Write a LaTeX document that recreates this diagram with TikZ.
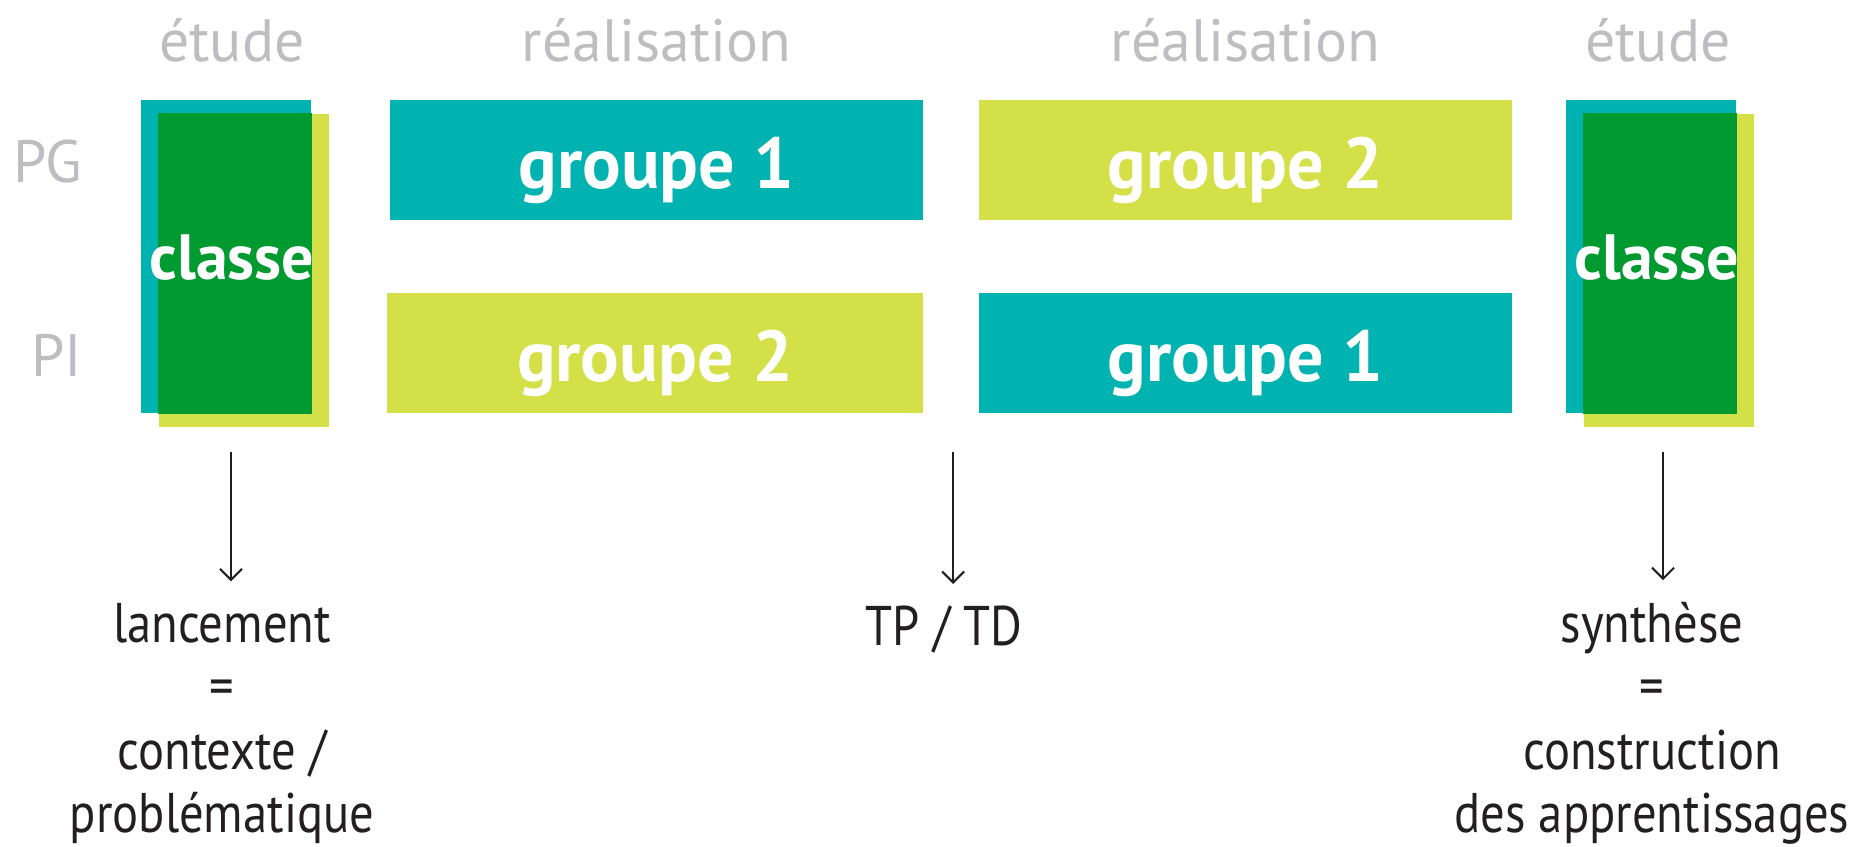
\documentclass[tikz,border=0pt]{standalone}
\usepackage{fontspec}
\setmainfont{PT Sans}
\newfontfamily\legendefont[FakeStretch=0.87]{PT Sans}
\usetikzlibrary{positioning,arrows.meta}
\definecolor{turquoise}{RGB}{0,178,176}
\definecolor{anis}{RGB}{212,224,72}
\definecolor{vertclasse}{RGB}{0,154,49}
\definecolor{grisclair}{RGB}{190,190,194}
\definecolor{encre}{RGB}{35,31,32}
\tikzset{
  bloc/.style={inner sep=0, minimum width=5.33cm, minimum height=1.2cm, text=white,
    font=\bfseries\fontsize{20.5}{24}\selectfont, text height=0.7cm, text depth=0.12cm},
  colonne/.style={inner sep=0, minimum width=1.7cm, minimum height=3.13cm},
  etiq/.style={text=white, font=\bfseries\fontsize{18.2}{21}\selectfont, anchor=base, inner sep=0},
  phase/.style={text=grisclair, font=\fontsize{17}{20}\selectfont, anchor=base, inner sep=0},
  legende/.style={text=encre, font=\legendefont\fontsize{15.9}{18.1}\selectfont, align=center, anchor=base, inner sep=0},
  fleche/.style={encre, line width=0.6pt, -{Straight Barb[length=1.1mm,width=2.2mm]}}
}
\begin{document}
\begin{tikzpicture}
  \useasboundingbox (0,0) rectangle (18.65,-8.47);
  % colonnes classe
  \node [colonne, fill=turquoise] (clG) at (2.26,-2.565) {};
  \node [colonne, fill=anis, on grid, below right=0.14cm and 0.18cm of clG] (clGb) {};
  \fill [vertclasse] (clGb.north west) rectangle (clG.south east);
  \node [colonne, fill=turquoise, on grid, right=14.25cm of clG] (clD) {};
  \node [colonne, fill=anis, on grid, below right=0.14cm and 0.18cm of clD] (clDb) {};
  \fill [vertclasse] (clDb.north west) rectangle (clD.south east);
  \node [etiq] (txtG) at (2.32,-2.80) {classe};
  \node [etiq, on grid, right=14.25cm of txtG] (txtD) {classe};
  % groupes
  \node [bloc, fill=turquoise] (g1h) at (6.565,-1.60) {groupe 1};
  \node [bloc, fill=anis, on grid, right=5.89cm of g1h] (g2h) {groupe 2};
  \node [bloc, fill=anis, minimum width=5.36cm] (g2b) at (6.55,-3.53) {groupe 2};
  \node [bloc, fill=turquoise, on grid, below=1.93cm of g2h] (g1b) {groupe 1};
  % titres
  \node [phase] (etG) at (2.32,-0.62) {étude};
  \node [phase] (reaG) at (6.565,-0.62) {réalisation};
  \node [phase, on grid, right=5.89cm of reaG] (reaD) {réalisation};
  \node [phase] (etD) at (16.58,-0.62) {étude};
  \node [phase, anchor=base east] (pg) at (0.83,-1.83) {PG};
  \node [phase, anchor=base east] (pi) at (0.83,-3.77) {PI};
  % legendes (base = derniere ligne)
  \node [legende] (lanc) at (2.22,-8.33) {lancement\\=\\contexte /\\problématique};
  \node [legende] (tp) at (9.44,-6.46) {TP / TD};
  \node [legende] (synth) at (16.52,-8.33) {synthèse\\=\\construction\\des apprentissages};
  \coordinate (flG) at (2.31,-4.52);
  \coordinate (flM) at (9.53,-4.52);
  \coordinate (flD) at (16.63,-4.52);
  \draw [fleche, shorten >=2.1mm] (flG) -- (flG |- lanc.north);
  \draw [fleche] (flM) -- ++(0,-1.32);
  \draw [fleche, shorten >=2.1mm] (flD) -- (flD |- synth.north);
\end{tikzpicture}
\end{document}
